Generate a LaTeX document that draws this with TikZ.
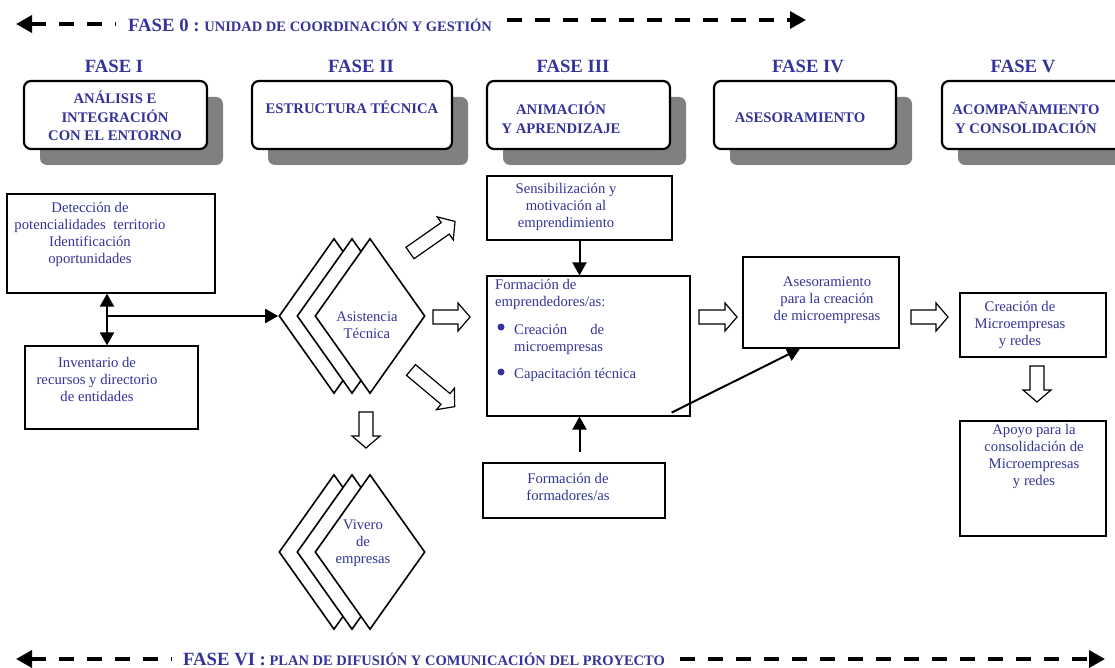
\documentclass[tikz,border=0pt]{standalone}
\usepackage{fontspec}
\setmainfont{Liberation Serif}
\usepackage{xcolor}
\usetikzlibrary{arrows.meta,shapes.geometric,shadows}
\definecolor{fcol}{RGB}{51,51,153}

\begin{document}
\begin{tikzpicture}[x=1pt, y=-1pt,
  >={Triangle[length=13pt,width=14pt]},
  txt/.style={text=fcol, font=\fontsize{14.7}{17}\selectfont, align=center, inner sep=0},
  caps/.style={text=fcol, font=\fontsize{14.7}{18.5}\selectfont\bfseries, align=center, inner sep=0},
  fase/.style={text=fcol, font=\fontsize{18.7}{22}\selectfont\bfseries, anchor=base, inner sep=0},
  faseline/.style={text=fcol, font=\fontsize{14.5}{17}\selectfont\bfseries, anchor=base west, inner sep=0},
  box/.style={draw, line width=1.2pt, inner sep=0},
  phbox/.style={draw, line width=2.2pt, rounded corners=7pt, fill=white,
    minimum height=68pt, inner sep=0,
    drop shadow={shadow xshift=16pt, shadow yshift=-16pt, fill=black!50, opacity=1}},
  rombo/.style={diamond, draw, line width=1.6pt, fill=white, inner sep=0,
    minimum width=110pt, minimum height=155pt},
  link/.style={line width=2pt},
  phase/.style={line width=3.5pt, dash pattern=on 15pt off 13pt,
    >={Triangle[length=16pt,width=17pt]}},
  pics/blockarr/.style={code={
    \draw[line width=1.2pt, fill=white] (0,-7) -- ({#1-12},-7) -- ({#1-12},-14)
      -- (#1,0) -- ({#1-12},14) -- ({#1-12},7) -- (0,7) -- cycle;}}]
\useasboundingbox (0,0) rectangle (1115,668);

% fase 0
\node[faseline] (fase0) at (128,32)
  {{\fontsize{18.7}{22}\selectfont FASE 0 :} UNIDAD DE COORDINACIÓN Y GESTIÓN};
\coordinate (f0a) at (16,24);
\coordinate (f0b) at (116,24);
\coordinate (f0c) at (507,20);
\coordinate (f0d) at (806,20);
\draw[phase, <-] (f0a) -- (f0b);
\draw[phase, ->] (f0c) -- (f0d);

% phases
\node[fase] (f1) at (114,73) {FASE I};
\node[fase] (f2) at (361,73) {FASE II};
\node[fase] (f3) at (573,73) {FASE III};
\node[fase] (f4) at (808,73) {FASE IV};
\node[fase] (f5) at (1023,73) {FASE V};
\node[phbox, minimum width=183pt] (p1) at (115.5,115) {};
\node[phbox, minimum width=200pt] (p2) at (352,115) {};
\node[phbox, minimum width=183pt] (p3) at (578.5,115) {};
\node[phbox, minimum width=182pt] (p4) at (805,115) {};
\node[phbox, minimum width=183pt] (p5) at (1033.5,115) {};
\node[caps] (p1t) at (115,116) {ANÁLISIS E\\INTEGRACIÓN\\CON EL ENTORNO};
\node[caps] (p2t) at (352,107) {ESTRUCTURA TÉCNICA};
\node[caps] (p3t) at (561,118) {ANIMACIÓN\\Y APRENDIZAJE};
\node[caps] (p4t) at (800,118) {ASESORAMIENTO};
\node[caps] (p5t) at (1026,118) {ACOMPAÑAMIENTO\\Y CONSOLIDACIÓN};

% analisis
\node[box, minimum width=208pt, minimum height=99pt] (det) at (111,243.5) {};
\node[txt] (dett) at (90,234)
  {Detección de\\potencialidades\ \ territorio\\Identificación\\oportunidades};
\node[box, minimum width=173pt, minimum height=83pt] (inv) at (111.5,387.5) {};
\node[txt] (invt) at (97,379) {Inventario de\\recursos y directorio\\de entidades};

% asistencia tecnica
\node[rombo] (asis1) at (334,316) {};
\node[rombo] (asis2) at (352,316) {};
\node[rombo] (asis) at (370,316) {};
\node[txt] (asist) at (367,325) {Asistencia\\Técnica};
\coordinate (jn) at (107,316);
\draw[link, <->] (det.south -| jn) -- (inv.north -| jn);
\draw[link, ->] (jn) -- (asis1.west);
\pic[rotate=35] at (410,253) {blockarr=55};
\pic at (433,317) {blockarr=37};
\pic[rotate=-40] at (411,370) {blockarr=57};
\pic[rotate=-90] at (366,412) {blockarr=36};

% vivero
\node[rombo] (viv1) at (334,552) {};
\node[rombo] (viv2) at (352,552) {};
\node[rombo] (viv) at (370,552) {};
\node[txt] (vivt) at (363,543) {Vivero\\de\\empresas};

% animacion
\node[box, minimum width=185pt, minimum height=64pt] (sens) at (579.5,208) {};
\node[txt] (senst) at (566,207) {Sensibilización y\\motivación al\\emprendimiento};
\node[box, minimum width=203pt, minimum height=140pt] (form) at (588.5,346) {};
\node[txt, align=left, anchor=north west] (formt) at (495,279)
  {Formación de\\emprendedores/as:\\[11pt]
   \hspace*{19pt}Creación\hspace{23pt}de\\
   \hspace*{19pt}microempresas\\[10pt]
   \hspace*{19pt}Capacitación técnica};
\fill[fcol] (501,327) circle (3.5pt);
\fill[fcol] (501,372) circle (3.5pt);
\node[box, minimum width=182pt, minimum height=55pt] (fmd) at (574,490.5) {};
\node[txt] (fmdt) at (568,487) {Formación de\\formadores/as};
\draw[link, ->] (sens.south) -- (sens.south |- form.north);
\draw[link, ->] ([yshift=10pt]fmd.north -| sens.south) -- (form.south -| sens.south);

% asesoramiento
\node[box, minimum width=156pt, minimum height=91pt] (ases) at (821,302.5) {};
\node[txt] (asest) at (827,300) {Asesoramiento\\para la creación\\de microempresas};
\draw[link, ->] ([xshift=-19pt,yshift=4pt]form.south east) -- ([xshift=-21pt]ases.south);
\pic at (699,317) {blockarr=38};

% acompanamiento
\node[box, minimum width=146pt, minimum height=64pt] (cre) at (1033,325) {};
\node[txt] (cret) at (1020,325) {Creación de\\Microempresas\\y redes};
\node[box, minimum width=146pt, minimum height=115pt] (apo) at (1033,478.5) {};
\node[txt] (apot) at (1034,456) {Apoyo para la\\consolidación de\\Microempresas\\y redes};
\pic at (911,317) {blockarr=37};
\pic[rotate=-90] at (1037,366) {blockarr=36};

% fase VI
\node[faseline] (fase6) at (183,665)
  {{\fontsize{18.7}{22}\selectfont FASE VI :} PLAN DE DIFUSIÓN Y COMUNICACIÓN DEL PROYECTO};
\coordinate (f6a) at (16,659);
\coordinate (f6b) at (172,659);
\coordinate (f6c) at (680,659);
\coordinate (f6d) at (1105,659);
\draw[phase, <-] (f6a) -- (f6b);
\draw[phase, ->] (f6c) -- (f6d);
\end{tikzpicture}
\end{document}
